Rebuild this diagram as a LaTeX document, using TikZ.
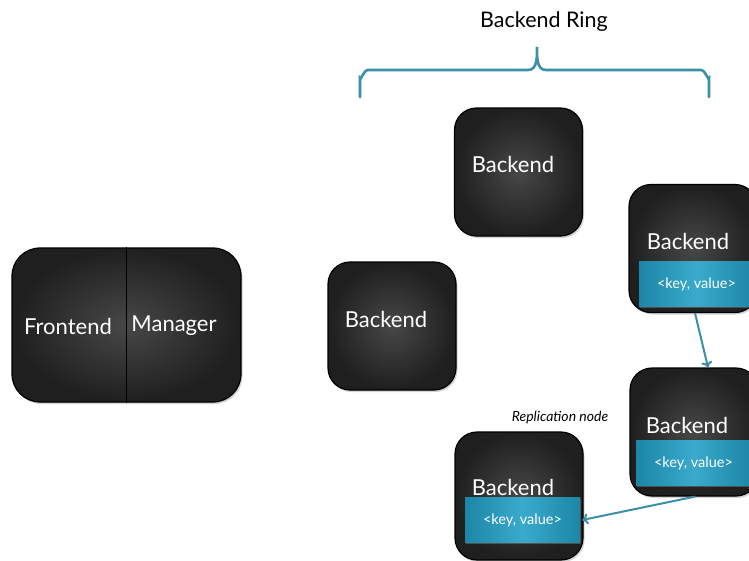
\documentclass[tikz,border=0pt]{standalone}
\usepackage{fontspec}
\setmainfont{Lato}
\usetikzlibrary{arrows.meta,shadows}
\definecolor{ringblue}{HTML}{3B8FA8}
\definecolor{kvdark}{HTML}{1C86A6}
\definecolor{kvlight}{HTML}{3AAACC}

\begin{document}
\begin{tikzpicture}[x=1pt,y=-1pt]
\useasboundingbox (0,0) rectangle (749,560);
\clip (0,0) rectangle (749,560);
%styles
\tikzstyle{box}=[draw=black,line width=1.2pt,rounded corners=22pt,inner sep=0pt,
  inner color=black!72,outer color=black!88,
  drop shadow={shadow xshift=1.5pt,shadow yshift=-2pt,opacity=0.35}]
\tikzstyle{backend}=[box,minimum width=128pt,minimum height=128pt]
\tikzstyle{label}=[text=white,font=\fontsize{22}{26}\selectfont]
\tikzstyle{keyval}=[minimum width=115pt,minimum height=45pt,inner sep=0pt,
  left color=kvdark,right color=kvdark,middle color=kvlight,text=white,
  font=\fontsize{14.5}{17}\selectfont,
  drop shadow={shadow xshift=1pt,shadow yshift=-1.5pt,opacity=0.5}]
\tikzstyle{link}=[ringblue,line width=2pt,-{To[length=6pt,width=11pt,line width=2pt]}]

%ring title and brace
\node (ring) at (544,22) [font=\fontsize{21.5}{26}\selectfont] {Backend Ring};
\draw[ringblue,line width=2.6pt,line cap=round]
 (360,97) -- (360,78) to[out=-90,in=180] (368,70) -- (528,70)
 to[out=0,in=-90] (537,47) to[out=-90,in=180] (546,70) -- (701,70)
 to[out=0,in=-90] (709,78) -- (709,97);

%frontend / manager
\node[box,minimum width=229pt,minimum height=154pt,rounded corners=28pt] (fm) at (126.5,325) {};
\draw[black,line width=1.5pt] (fm.north) -- (fm.south);
\node[label] (front) at (68,326) {Frontend};
\node[label] (manager) at (174,326) {Manager};

%backends
\node[backend] (back1) at (392,326) {};
\node[label] (back1txt) at ([shift={(-6,-7)}]back1.center) {Backend};

\node[backend] (back2) at (518.5,172) {};
\node[label] (back2txt) at ([shift={(-5.5,-8)}]back2.center) {Backend};

\node[backend] (back3) at (693,248.5) {};
\node[label] (back3txt) at ([shift={(-5,-7.5)}]back3.center) {Backend};
\node[keyval] (kv3) at (696.5,284) {<key, value>};

\node[backend] (back4) at (694,432) {};
\node[label] (back4txt) at ([shift={(-7,-7)}]back4.center) {Backend};
\node[keyval] (kv4) at (693.5,463) {<key, value>};

\node[backend] (back5) at (519,496) {};
\node[label] (back5txt) at ([shift={(-6,-9)}]back5.center) {Backend};
\node[keyval] (kv5) at (522.5,520) {<key, value>};

\node (repl) at (560,418) [font=\itshape\fontsize{14}{17}\selectfont] {Replication node};

%replication arrows
\draw[link] ([xshift=2pt]back3.south) -- ([xshift=14pt]back4.north);
\draw[link] ([xshift=1pt]back4.south) -- ([xshift=2pt]kv5.east);

\end{tikzpicture}
\end{document}
